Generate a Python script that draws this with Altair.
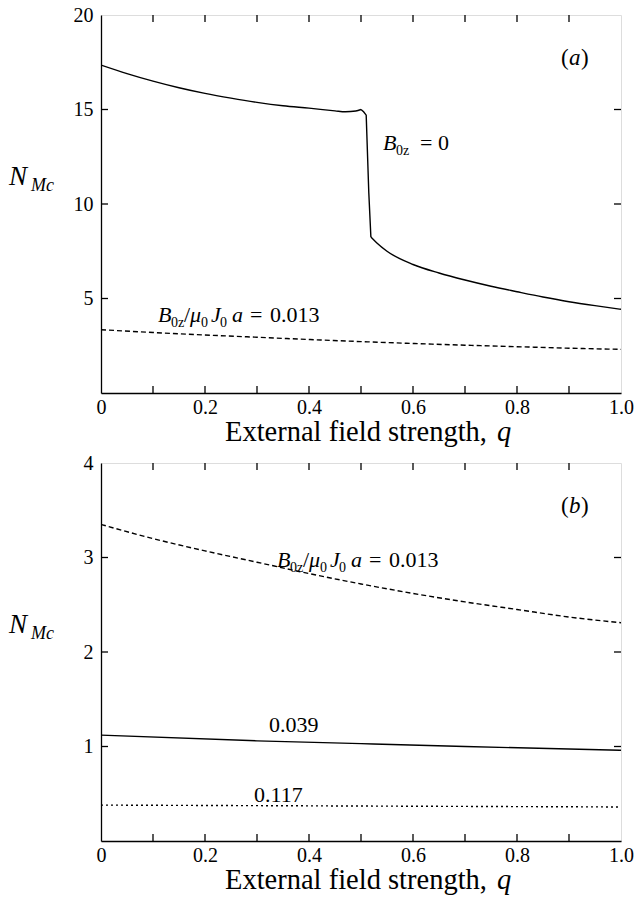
import altair as alt
import pandas as pd

# ---------------- data ----------------
# Panel (a): B0z = 0 (solid), in three pieces: before, during and after the jump
qa_pre = [0.0, 0.05, 0.1, 0.15, 0.2, 0.25, 0.3, 0.35, 0.4, 0.45, 0.47, 0.49, 0.50]
Na_pre = [17.35, 16.9, 16.5, 16.15, 15.85, 15.6, 15.38, 15.2, 15.07, 14.93, 14.88, 14.92, 15.0]
qa_jump = [0.50, 0.505, 0.51, 0.515, 0.519]
Na_jump = [15.0, 14.88, 14.7, 10.6, 8.25]
qa_post = [0.519, 0.53, 0.55, 0.6, 0.65, 0.7, 0.75, 0.8, 0.85, 0.9, 0.95, 1.0]
Na_post = [8.25, 7.95, 7.5, 6.8, 6.35, 5.98, 5.65, 5.36, 5.08, 4.83, 4.62, 4.43]

# B0z/mu0 J0 a = 0.013 (dashed), shown in both panels
q_013 = [0.0, 0.1, 0.2, 0.3, 0.4, 0.5, 0.6, 0.7, 0.8, 0.9, 1.0]
N_013 = [3.35, 3.20, 3.07, 2.95, 2.83, 2.72, 2.62, 2.53, 2.45, 2.37, 2.31]

# 0.039 (solid) and 0.117 (dotted), panel (b)
q_039 = [0.0, 0.3, 0.5, 0.7, 1.0]
N_039 = [1.12, 1.06, 1.03, 1.00, 0.96]
q_117 = [0.0, 0.5, 1.0]
N_117 = [0.38, 0.37, 0.36]

x_label_vals = [0, 0.2, 0.4, 0.6, 0.8, 1.0]
x_tick_vals = [0.1, 0.2, 0.3, 0.4, 0.5, 0.6, 0.7, 0.8, 0.9]
ya_label_vals = [5, 10, 15, 20]
ya_tick_vals = [5, 10, 15]
yb_label_vals = [1, 2, 3, 4]
yb_tick_vals = [1, 2, 3]

FONT = "Liberation Serif"
W, H = 520, 378
TICK = 7

AXSTYLE = dict(ticks=False, grid=False, title=None, labelFont=FONT, labelFontSize=20,
               labelColor="black", labelFlush=False, labelOverlap=False,
               domainColor="black", domainWidth=1.3)


def enc(ymax, yvals):
    x = alt.X("q:Q", scale=alt.Scale(domain=[0, 1], nice=False),
              axis=alt.Axis(values=x_label_vals,
                            labelExpr="datum.value == 0 ? '0' : format(datum.value, '.1f')",
                            labelPadding=4, **AXSTYLE))
    y = alt.Y("N:Q", scale=alt.Scale(domain=[0, ymax], nice=False),
              axis=alt.Axis(values=yvals, format="d", labelPadding=8, **AXSTYLE))
    return x, y


def line(E, q, n, dash=None, interp="monotone"):
    df = pd.DataFrame({"q": q, "N": n})
    kw = dict(color="black", strokeWidth=1.4, clip=True, interpolate=interp)
    if dash:
        kw["strokeDash"] = dash
    return alt.Chart(df).mark_line(**kw).encode(x=E[0], y=E[1])


def ticks(E, xv, yv):
    dx = pd.DataFrame({"q": xv})
    dy = pd.DataFrame({"N": yv})
    r = dict(color="black", strokeWidth=1.3)
    return [
        alt.Chart(dx).mark_rule(**r).encode(x=E[0], y=alt.value(H), y2=alt.value(H - TICK)),
        alt.Chart(dx).mark_rule(**r).encode(x=E[0], y=alt.value(0), y2=alt.value(TICK)),
        alt.Chart(dy).mark_rule(**r).encode(y=E[1], x=alt.value(0), x2=alt.value(TICK)),
        alt.Chart(dy).mark_rule(**r).encode(y=E[1], x=alt.value(W), x2=alt.value(W - TICK)),
    ]


def txt(s, x, y, size=21, style="normal"):
    return alt.Chart(pd.DataFrame({"t": [s]})).mark_text(
        font=FONT, fontSize=size, fontStyle=style, align="left", baseline="alphabetic",
        color="black").encode(text="t:N", x=alt.value(x), y=alt.value(y))


def ratio_label(x0, yb):
    # B_0z / mu_0 J_0 a = 0.013
    return [
        txt("B", x0, yb, 22, "italic"),
        txt("0z", x0 + 13, yb + 5, 14),
        txt("/", x0 + 26, yb, 22),
        txt("μ", x0 + 32, yb, 22, "italic"),
        txt("0", x0 + 43, yb + 5, 14),
        txt("J", x0 + 53, yb, 22, "italic"),
        txt("0", x0 + 62, yb + 5, 14),
        txt("a", x0 + 74, yb, 22, "italic"),
        txt("=", x0 + 92, yb, 22),
        txt("0.013", x0 + 112, yb, 22),
    ]


def ylabel():
    return [txt("N", -92, 170, 27, "italic"), txt("Mc", -70, 176, 18, "italic")]


def panel_letter(letter):
    return [txt("(", 460, 50, 23), txt(letter, 468, 50, 23, "italic"), txt(")", 480, 50, 23)]


def xtitle_at(yb):
    return [txt("External field strength,", 124, yb, 28.5), txt("q", 396, yb, 28.5, "italic")]


Ea = enc(20, ya_label_vals)
Eb = enc(4, yb_label_vals)

panel_a = alt.layer(
    line(Ea, qa_pre, Na_pre),
    line(Ea, qa_jump, Na_jump, interp="linear"),
    line(Ea, qa_post, Na_post),
    line(Ea, q_013, N_013, [5, 3]),
    *ticks(Ea, x_tick_vals, ya_tick_vals),
    *ylabel(),
    *panel_letter("a"),
    txt("B", 282, 135, 22, "italic"), txt("0z", 295, 140, 14), txt("=", 319, 135, 22), txt("0", 337, 135, 22),
    *ratio_label(57, 307),
    *xtitle_at(H + 48),
).properties(width=W, height=H)

panel_b = alt.layer(
    line(Eb, q_013, N_013, [5, 3]),
    line(Eb, q_039, N_039),
    line(Eb, q_117, N_117, [2, 3]),
    *ticks(Eb, x_tick_vals, yb_tick_vals),
    *ylabel(),
    *panel_letter("b"),
    *ratio_label(176, 104),
    txt("0.039", 168, 269, 22),
    txt("0.117", 153, 339, 22),
    *xtitle_at(H + 48),
).properties(width=W, height=H)

chart = alt.vconcat(panel_a, panel_b, spacing=5).properties(
    padding={"left": 0, "top": -4, "right": 0, "bottom": 0}
).configure_view(stroke="black", strokeWidth=1.3).configure(background="white")

chart.save("out.html", embed_options={"renderer": "svg", "actions": False})
